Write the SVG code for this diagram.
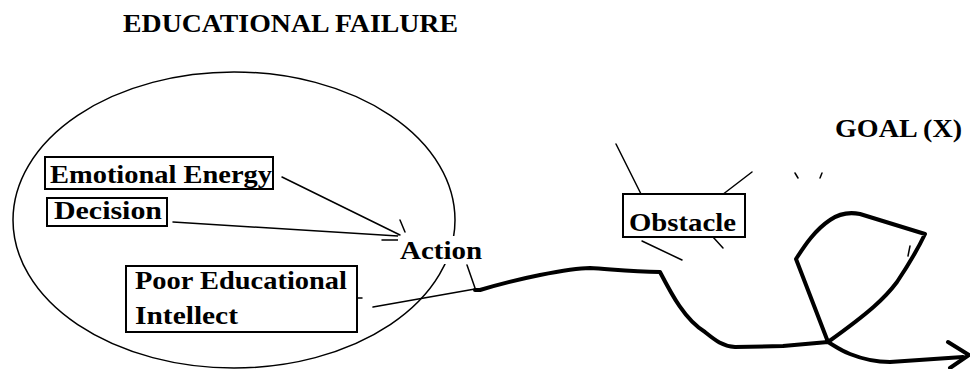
<svg xmlns="http://www.w3.org/2000/svg" width="970" height="369" viewBox="0 0 970 369">
<style>
  text { font-family: "Liberation Serif", "Times New Roman", serif; font-weight: bold; fill: #000; }
  .t { font-size: 25px; }
  .box { fill: #fff; stroke: #000; stroke-width: 2; }
  .thin { fill: none; stroke: #000; stroke-width: 1.5; stroke-linecap: round; }
  .thick { fill: none; stroke: #000; stroke-width: 4; stroke-linecap: round; stroke-linejoin: round; }
</style>
<rect width="970" height="369" fill="#fff"/>
<g id="title">
  <text class="t" x="123" y="32" textLength="335" lengthAdjust="spacingAndGlyphs">EDUCATIONAL FAILURE</text>
</g>
<g id="goal">
  <text class="t" x="835" y="137" textLength="127" lengthAdjust="spacingAndGlyphs">GOAL (X)</text>
</g>
<g id="failure-ellipse">
  <ellipse cx="234" cy="220" rx="221" ry="148" fill="none" stroke="#000" stroke-width="1.5"/>
</g>
<g id="connectors">
  <path class="thin" d="M282,177 L400,235"/>
  <path class="thin" d="M173,222 L398,236"/>
  <path class="thin" d="M382,240 L398,240"/>
  <path class="thin" d="M400,220 L405,232"/>
  <path class="thin" d="M373,307 L475,289"/>
  <path class="thin" d="M467,265 L475,288"/>
  <path class="thin" d="M357,298 L362,298"/>
  <path class="thin" d="M616,144 L641,194"/>
  <path class="thin" d="M752,172 L722,195"/>
  <path class="thin" d="M642,241 L682,260"/>
  <path class="thin" d="M713,237 L723,248"/>
  <path class="thin" d="M795,173 L798,178"/>
  <path class="thin" d="M822,173 L820,178"/>
  <path class="thick" d="M475,290 L480,290 C500,284 520,279 540,275 C560,271 575,268 590,268 C610,269 630,272 660,272 C672,295 685,320 705,332 C715,340 722,346 735,347 L783,346 L828,342 L796,259 C805,245 815,230 830,220 C840,213 850,212 860,214 L925,234 C915,255 905,270 897,282 C885,298 870,312 828,342 C835,346 840,350 850,354 C860,358 875,362 890,362 L963,357"/>
  <path class="thin" d="M910,246 L908,256" stroke-width="2.5"/>
  <path class="thick" d="M948,342 L969,355 L950,368" stroke-width="3"/>
</g>
<g id="action">
  <rect x="398" y="236" width="86" height="28" fill="#fff"/>
  <text class="t" x="400" y="259" textLength="82" lengthAdjust="spacingAndGlyphs">Action</text>
</g>
<g id="emotional-energy">
  <rect class="box" x="45" y="157" width="228" height="32"/>
  <text class="t" x="50" y="183" textLength="222" lengthAdjust="spacingAndGlyphs">Emotional Energy</text>
</g>
<g id="decision">
  <rect class="box" x="47" y="198" width="120" height="28"/>
  <text class="t" x="54" y="219" textLength="108" lengthAdjust="spacingAndGlyphs">Decision</text>
</g>
<g id="poor-educational-intellect">
  <rect class="box" x="126" y="266" width="231" height="66"/>
  <text class="t" x="135" y="289" textLength="212" lengthAdjust="spacingAndGlyphs">Poor Educational</text>
  <text class="t" x="135" y="324" textLength="103" lengthAdjust="spacingAndGlyphs">Intellect</text>
</g>
<g id="obstacle">
  <rect class="box" x="623" y="194" width="122" height="43"/>
  <text class="t" x="629" y="231" textLength="107" lengthAdjust="spacingAndGlyphs">Obstacle</text>
</g>
</svg>
